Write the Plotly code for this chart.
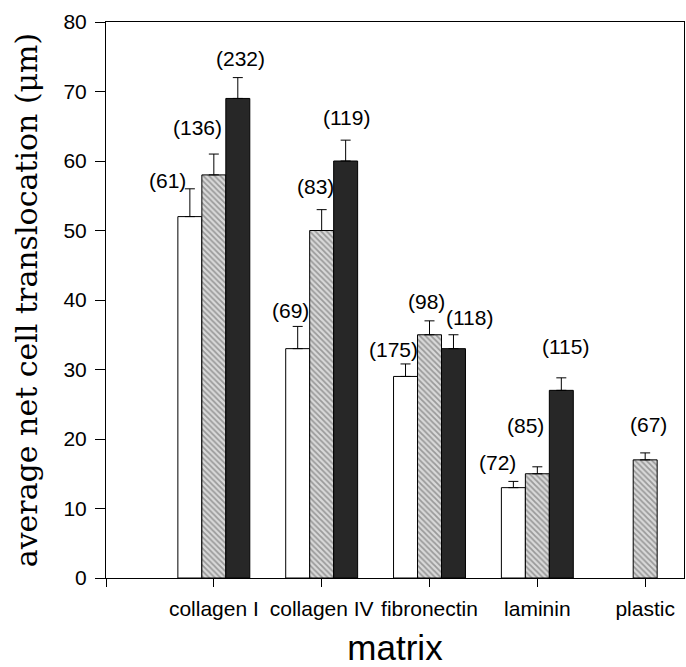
import plotly.graph_objects as go

categories = ["collagen I", "collagen IV", "fibronectin", "laminin", "plastic"]
series_names = ["white", "hatched", "black"]

white_vals = [52, 33, 29, 13, None]
hatched_vals = [58, 50, 35, 15, 17]
black_vals = [69, 60, 33, 27, None]

white_err = [4, 3.2, 1.8, 0.9, None]
hatched_err = [3, 3, 2, 1, 1]
black_err = [3, 3, 2, 1.8, None]

white_n = ["(61)", "(69)", "(175)", "(72)", None]
hatched_n = ["(136)", "(83)", "(98)", "(85)", "(67)"]
black_n = ["(232)", "(119)", "(118)", "(115)", None]

y_ticks = [0, 10, 20, 30, 40, 50, 60, 70, 80]

# label pixel offsets (dx, dy) relative to the top of each error bar
white_off = [(-22, 8), (-7, 16), (-12, 14), (-16, 19), None]
hatched_off = [(-16, 27), (-6, 23), (-3, 19), (-12, 41), (3, 28)]
black_off = [(3, 19), (1, 23), (16, 17), (4, 31), None]

xpos = [i + 1 for i in range(len(categories))]

fig = go.Figure()

styles = [
    dict(marker=dict(color="white", line=dict(color="black", width=1))),
    dict(marker=dict(color="#d9d9d9", line=dict(color="black", width=1),
                     pattern=dict(shape="\\", size=4, solidity=0.45,
                                  fgcolor="#5a5a5a", bgcolor="#d9d9d9"))),
    dict(marker=dict(color="#272727", line=dict(color="black", width=1))),
]

for name, vals, errs, st in zip(series_names,
                                [white_vals, hatched_vals, black_vals],
                                [white_err, hatched_err, black_err],
                                styles):
    fig.add_trace(go.Bar(
        x=xpos, y=vals, name=name,
        error_y=dict(type="data", symmetric=False,
                     array=[e if e is not None else 0 for e in errs],
                     arrayminus=[0] * len(errs),
                     color="black", thickness=1, width=5),
        **st,
    ))

annotations = []
for vals, errs, labels, offs, k in zip([white_vals, hatched_vals, black_vals],
                                       [white_err, hatched_err, black_err],
                                       [white_n, hatched_n, black_n],
                                       [white_off, hatched_off, black_off],
                                       [-1, 0, 1]):
    for i, (v, e, lab, off) in enumerate(zip(vals, errs, labels, offs)):
        if v is None or lab is None:
            continue
        annotations.append(dict(
            x=xpos[i] + k * 0.222, y=v + e, xref="x", yref="y",
            text=lab, showarrow=False,
            xshift=off[0], yshift=off[1],
            font=dict(family="Liberation Sans, Arial, sans-serif", size=21, color="black"),
        ))

fig.update_layout(
    width=686, height=667,
    margin=dict(l=106, r=2, t=22, b=89),
    paper_bgcolor="white", plot_bgcolor="white",
    barmode="group", bargap=0.333, bargroupgap=0,
    showlegend=False,
    annotations=annotations,
    xaxis=dict(
        range=[0, 5.36], automargin=False,
        tickvals=[0] + xpos, ticktext=[""] + categories,
        ticks="outside", ticklen=8, tickcolor="black", tickwidth=1,
        ticklabelstandoff=4,
        showline=True, linecolor="black", linewidth=1, mirror=True,
        showgrid=False, zeroline=False,
        tickfont=dict(family="Liberation Sans, Arial, sans-serif", size=21, color="black"),
        title=dict(text="matrix", standoff=24,
                   font=dict(family="Liberation Sans, Arial, sans-serif", size=35, color="black")),
    ),
    yaxis=dict(
        range=[0, 80], automargin=False,
        tickvals=y_ticks,
        ticks="outside", ticklen=10, tickcolor="black", tickwidth=1,
        ticklabelstandoff=4,
        showline=True, linecolor="black", linewidth=1, mirror=True,
        showgrid=False, zeroline=False,
        tickfont=dict(family="Liberation Sans, Arial, sans-serif", size=21, color="black"),
        title=dict(text="average net cell translocation (μm)", standoff=16,
                   font=dict(family="DejaVu Serif, Liberation Serif, serif", size=30, color="black")),
    ),
)

fig.write_html("out.html", config={"displayModeBar": False},
               post_script="document.body.style.margin='0';")
